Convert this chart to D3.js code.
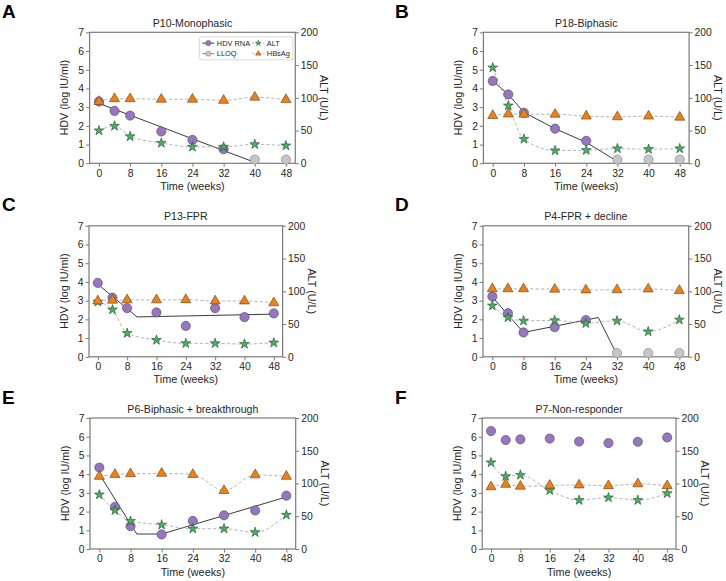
<!DOCTYPE html>
<html><head><meta charset="utf-8">
<script src="https://cdn.jsdelivr.net/npm/d3@7"></script>
<style>
body{margin:0;background:#fff;}
svg{display:block;font-family:"Liberation Sans",Arial,sans-serif;}
</style></head>
<body><svg id="chart" width="726" height="581"></svg>
<script>
// ---------------- DATA ----------------
const weeks = [0, 4, 8, 16, 24, 32, 40, 48];
const xTicks = [0, 8, 16, 24, 32, 40, 48];
const leftTicks = [0, 1, 2, 3, 4, 5, 6, 7];
const rightTicks = [0, 50, 100, 150, 200];
const panelLetters = ["A", "B", "C", "D", "E", "F"];
const panelTitles = ["P10-Monophasic", "P18-Biphasic", "P13-FPR", "P4-FPR + decline", "P6-Biphasic + breakthrough", "P7-Non-responder"];
const legendLabels = ["HDV RNA", "LLOQ", "ALT", "HBsAg"];

// HDV RNA (log IU/ml), null = below LLOQ
const hdvA = [3.30, 2.80, 2.55, 1.70, 1.25, 0.75, null, null];
const hdvB = [4.40, 3.68, 2.70, 1.85, 1.20, null, null, null];
const hdvC = [3.95, 3.16, 2.60, 2.37, 1.65, 2.60, 2.12, 2.32];
const hdvD = [3.22, 2.33, 1.30, 1.58, 1.96, null, null, null];
const hdvE = [4.35, 2.25, 1.22, 0.78, 1.50, 1.80, 2.06, 2.85];
const hdvF = [6.30, 5.82, 5.86, 5.90, 5.74, 5.66, 5.73, 5.96];

// LLOQ points
const lloqA = [null, null, null, null, null, null, 0.2, 0.2];
const lloqB = [null, null, null, null, null, 0.2, 0.2, 0.2];
const lloqC = [null, null, null, null, null, null, null, null];
const lloqD = [null, null, null, null, null, 0.2, 0.2, 0.2];
const lloqE = [null, null, null, null, null, null, null, null];
const lloqF = [null, null, null, null, null, null, null, null];

// ALT (U/L), right axis
const altA = [50, 57, 41, 31, 25, 25, 29, 27];
const altB = [146, 88, 37, 19.5, 20, 22.5, 21.5, 22.5];
const altC = [84, 72, 36, 25.5, 20.5, 20.5, 19.5, 21.5];
const altD = [78, 60, 55, 55.5, 51, 55, 38.5, 56.5];
const altE = [83, 59, 42.5, 37, 31, 31, 25.5, 52];
const altF = [132, 111, 113, 89.5, 74.5, 78.5, 74.5, 85];

// HBsAg (log IU/ml), left axis
const hbsA = [3.30, 3.45, 3.45, 3.42, 3.42, 3.36, 3.53, 3.40];
const hbsB = [2.55, 2.63, 2.62, 2.62, 2.52, 2.48, 2.52, 2.46];
const hbsC = [2.98, 3.02, 3.04, 3.04, 3.05, 2.98, 2.98, 2.88];
const hbsD = [3.63, 3.63, 3.63, 3.61, 3.57, 3.58, 3.62, 3.54];
const hbsE = [3.88, 3.98, 4.02, 4.04, 3.98, 3.12, 3.96, 3.88];
const hbsF = [3.32, 3.45, 3.35, 3.40, 3.42, 3.38, 3.48, 3.38];

// model fit lines (weeks, log IU/ml)
const fitWeeksA = [0, 40];            const fitHdvA = [3.20, 0.05];
const fitWeeksB = [0, 4, 8, 16, 24, 32]; const fitHdvB = [4.40, 3.68, 2.72, 1.85, 1.12, 0.10];
const fitWeeksC = [0, 10.7, 48];      const fitHdvC = [3.88, 2.13, 2.28];
const fitWeeksD = [0, 8, 27.2, 32];   const fitHdvD = [3.20, 1.30, 2.10, 0.10];
const fitWeeksE = [0, 9.6, 16, 48];   const fitHdvE = [4.00, 0.80, 0.80, 2.78];
const fitWeeksF = [];                 const fitHdvF = [];

// ---------------- LAYOUT ----------------
const layout = [
  {x: 89.6, y: 32.3, w: 205.7, h: 131, lx: 2, ly: 18},
  {x: 483.4, y: 32.3, w: 205.7, h: 131, lx: 395, ly: 18},
  {x: 89.0, y: 225.8, w: 193.6, h: 131, lx: 2, ly: 211},
  {x: 483.0, y: 225.8, w: 205.7, h: 131, lx: 395, ly: 211},
  {x: 90.0, y: 418.0, w: 205.7, h: 131, lx: 2, ly: 404},
  {x: 482.2, y: 418.0, w: 193.8, h: 131, lx: 395, ly: 404}
];

const panels = [
  {hdv: hdvA, lloq: lloqA, alt: altA, hbs: hbsA, fw: fitWeeksA, fv: fitHdvA},
  {hdv: hdvB, lloq: lloqB, alt: altB, hbs: hbsB, fw: fitWeeksB, fv: fitHdvB},
  {hdv: hdvC, lloq: lloqC, alt: altC, hbs: hbsC, fw: fitWeeksC, fv: fitHdvC},
  {hdv: hdvD, lloq: lloqD, alt: altD, hbs: hbsD, fw: fitWeeksD, fv: fitHdvD},
  {hdv: hdvE, lloq: lloqE, alt: altE, hbs: hbsE, fw: fitWeeksE, fv: fitHdvE},
  {hdv: hdvF, lloq: lloqF, alt: altF, hbs: hbsF, fw: fitWeeksF, fv: fitHdvF}
];

const C = {
  purple: "#9677bd", purpleEdge: "#4e3f63",
  gray: "#c6c6c6", grayEdge: "#7d7d7d",
  green: "#4dae62", greenEdge: "#1f4d2c",
  orange: "#e8821f", orangeEdge: "#6b3a08",
  fit: "#3a3a3a", dash: "#b5b5b5", spine: "#7a7a7a", text: "#262626"
};

const svg = d3.select("#chart");
const circleR = 4.6;
const starSym = d3.symbol().type(d3.symbolStar).size(30);
const triSym = d3.symbol().type(d3.symbolTriangle).size(44);
const intFmt = d3.format("d");

function drawPanel(i) {
  const L = layout[i], P = panels[i];
  const g = svg.append("g").attr("transform", `translate(${L.x},${L.y})`);
  const x = d3.scaleLinear().domain([-2.4, 50.4]).range([0, L.w]);
  const y = d3.scaleLinear().domain([0, 7]).range([L.h, 0]);
  const y2 = d3.scaleLinear().domain([0, 200]).range([L.h, 0]);

  // axes
  const ax = g.append("g").attr("transform", `translate(0,${L.h})`)
    .call(d3.axisBottom(x).tickValues(xTicks).tickFormat(intFmt).tickSize(3.5).tickSizeOuter(0).tickPadding(2.5));
  const ayl = g.append("g").call(d3.axisLeft(y).tickValues(leftTicks).tickFormat(intFmt).tickSize(3.5).tickSizeOuter(0).tickPadding(2));
  const ayr = g.append("g").attr("transform", `translate(${L.w},0)`)
    .call(d3.axisRight(y2).tickValues(rightTicks).tickFormat(intFmt).tickSize(3.5).tickSizeOuter(0).tickPadding(2));
  [ax, ayl, ayr].forEach(a => {
    a.select(".domain").remove();
    a.selectAll(".tick line").attr("stroke", C.spine).attr("stroke-width", 1);
    a.selectAll(".tick text").attr("fill", C.text).style("font-size", "10.3px");
  });
  // frame
  g.append("rect").attr("x", 0).attr("y", 0).attr("width", L.w).attr("height", L.h)
    .attr("fill", "none").attr("stroke", C.spine).attr("stroke-width", 1.2);

  // title, labels, letter
  g.append("text").attr("x", L.w / 2).attr("y", -5.5).attr("text-anchor", "middle")
    .attr("fill", C.text).style("font-size", "10.6px").text(panelTitles[i]);
  g.append("text").attr("x", L.w / 2).attr("y", L.h + 26.5).attr("text-anchor", "middle")
    .attr("fill", C.text).style("font-size", "10.8px").text("Time (weeks)");
  g.append("text").attr("transform", `translate(-21.5,${L.h / 2}) rotate(-90)`).attr("text-anchor", "middle")
    .attr("fill", C.text).style("font-size", "10.8px").text("HDV (log IU/ml)");
  g.append("text").attr("transform", `translate(${L.w + 25},${L.h / 2}) rotate(90)`).attr("text-anchor", "middle")
    .attr("fill", C.text).style("font-size", "10.8px").text("ALT (U/L)");
  svg.append("text").attr("x", L.lx).attr("y", L.ly).attr("fill", "#000")
    .style("font-size", "19px").style("font-weight", "bold").text(panelLetters[i]);

  // fit line
  if (P.fw.length) {
    const fit = P.fw.map((w, k) => [w, P.fv[k]]);
    g.append("path").datum(fit).attr("fill", "none").attr("stroke", C.fit).attr("stroke-width", 1)
      .attr("d", d3.line().x(d => x(d[0])).y(d => y(d[1])));
  }
  // dashed lines
  const hbsPts = weeks.map((w, k) => [w, P.hbs[k]]);
  const altPts = weeks.map((w, k) => [w, P.alt[k]]);
  g.append("path").datum(hbsPts).attr("fill", "none").attr("stroke", C.dash).attr("stroke-width", 1)
    .attr("stroke-dasharray", "3.2,2.2")
    .attr("d", d3.line().curve(d3.curveMonotoneX).x(d => x(d[0])).y(d => y(d[1])));
  g.append("path").datum(altPts).attr("fill", "none").attr("stroke", C.dash).attr("stroke-width", 1)
    .attr("stroke-dasharray", "3.2,2.2")
    .attr("d", d3.line().curve(d3.curveMonotoneX).x(d => x(d[0])).y(d => y2(d[1])));

  // HDV circles
  const hdvPts = weeks.map((w, k) => [w, P.hdv[k]]).filter(d => d[1] !== null);
  g.selectAll(".hdv").data(hdvPts).join("circle").attr("class", "hdv")
    .attr("cx", d => x(d[0])).attr("cy", d => y(d[1])).attr("r", circleR)
    .attr("fill", C.purple).attr("stroke", C.purpleEdge).attr("stroke-width", 0.6);
  const lloqPts = weeks.map((w, k) => [w, P.lloq[k]]).filter(d => d[1] !== null);
  g.selectAll(".lloq").data(lloqPts).join("circle").attr("class", "lloq")
    .attr("cx", d => x(d[0])).attr("cy", d => y(d[1])).attr("r", circleR)
    .attr("fill", C.gray).attr("stroke", C.grayEdge).attr("stroke-width", 0.6);
  // ALT stars
  g.selectAll(".alt").data(altPts).join("path").attr("class", "alt")
    .attr("transform", d => `translate(${x(d[0])},${y2(d[1])})`).attr("d", starSym)
    .attr("fill", C.green).attr("stroke", C.greenEdge).attr("stroke-width", 0.6);
  // HBsAg triangles
  g.selectAll(".hbs").data(hbsPts).join("path").attr("class", "hbs")
    .attr("transform", d => `translate(${x(d[0])},${y(d[1])})`).attr("d", triSym)
    .attr("fill", C.orange).attr("stroke", C.orangeEdge).attr("stroke-width", 0.6);

  if (i === 0) drawLegend(g, L);
}

function drawLegend(g, L) {
  const lg = g.append("g").attr("transform", `translate(${L.w - 96},4.5)`);
  lg.append("rect").attr("width", 93.5).attr("height", 23).attr("rx", 2)
    .attr("fill", "#fff").attr("fill-opacity", 0.85).attr("stroke", "#d0d0d0").attr("stroke-width", 0.8);
  const items = [
    {lab: legendLabels[0], cx: 3, cy: 6.3, line: C.fit, dash: null, mk: "circle", fill: C.purple, edge: C.purpleEdge},
    {lab: legendLabels[1], cx: 3, cy: 16.8, line: C.grayEdge, dash: null, mk: "circle", fill: C.gray, edge: C.grayEdge},
    {lab: legendLabels[2], cx: 53, cy: 6.3, line: C.dash, dash: "2,1.5", mk: "star", fill: C.green, edge: C.greenEdge},
    {lab: legendLabels[3], cx: 53, cy: 16.8, line: C.dash, dash: "2,1.5", mk: "tri", fill: C.orange, edge: C.orangeEdge}
  ];
  items.forEach(it => {
    const ln = lg.append("line").attr("x1", it.cx).attr("x2", it.cx + 12).attr("y1", it.cy).attr("y2", it.cy)
      .attr("stroke", it.line).attr("stroke-width", 1);
    if (it.dash) ln.attr("stroke-dasharray", it.dash);
    const mx = it.cx + 6;
    if (it.mk === "circle") {
      lg.append("circle").attr("cx", mx).attr("cy", it.cy).attr("r", 2.6)
        .attr("fill", it.fill).attr("stroke", it.edge).attr("stroke-width", 0.5);
    } else if (it.mk === "star") {
      lg.append("path").attr("transform", `translate(${mx},${it.cy})`).attr("d", d3.symbol().type(d3.symbolStar).size(10))
        .attr("fill", it.fill).attr("stroke", it.edge).attr("stroke-width", 0.4);
    } else {
      lg.append("path").attr("transform", `translate(${mx},${it.cy})`).attr("d", d3.symbol().type(d3.symbolTriangle).size(13))
        .attr("fill", it.fill).attr("stroke", it.edge).attr("stroke-width", 0.4);
    }
    lg.append("text").attr("x", it.cx + 14.5).attr("y", it.cy + 2.6).attr("fill", C.text)
      .style("font-size", "7.4px").text(it.lab);
  });
}

for (let i = 0; i < 6; i++) drawPanel(i);
</script>
</body></html>
